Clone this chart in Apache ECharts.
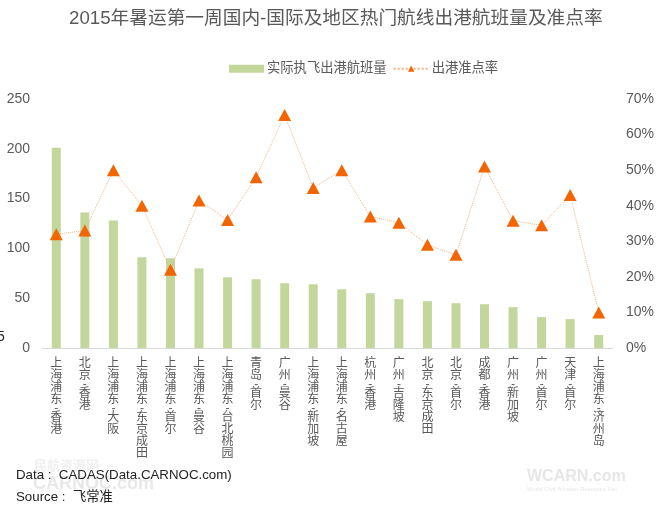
<!DOCTYPE html>
<html><head><meta charset="utf-8">
<style>html,body{margin:0;padding:0;background:#fff}#c{width:661px;height:513px}</style>
<script src="https://cdn.jsdelivr.net/npm/echarts@6/dist/echarts.min.js"></script>
</head><body><div id="c"></div>
<script>
const categories = ['上海浦东·香港','北京·香港','上海浦东·大阪','上海浦东·东京成田','上海浦东·首尔','上海浦东·曼谷','上海浦东·台北桃园','青岛·首尔','广州·曼谷','上海浦东·新加坡','上海浦东·名古屋','杭州·香港','广州·吉隆坡','北京·东京成田','北京·首尔','成都·香港','广州·新加坡','广州·首尔','天津·首尔','上海浦东·济州岛'];
const flights = [201,136,128,91,90,80,71,69,65,64,59,55,49,47,45,44,41,31,29,13];
const onTime = [32,33,50,40,22,41.5,36,48,65.5,45,50,37,35.2,29,26.2,51,35.8,34.5,43,10];
const F = '"Liberation Sans","Noto Sans CJK SC",sans-serif';
const chart = echarts.init(document.getElementById('c'), null, {renderer:'canvas'});
chart.setOption({
  animation:false,
  textStyle:{fontFamily:F},
  title:{text:'2015年暑运第一周国内-国际及地区热门航线出港航班量及准点率',left:64,top:5,
    textStyle:{fontFamily:F,fontSize:18.7,fontWeight:'normal',color:'#595959'}},
  legend:{top:57,left:224,itemGap:6,itemWidth:35,itemHeight:8,
    textStyle:{fontFamily:F,fontSize:13.3,color:'#595959',padding:[0,0,0,-2]},
    data:[{name:'实际执飞出港航班量',icon:'rect'},{name:'出港准点率'}]},
  grid:{left:42,right:48,top:99,bottom:165,containLabel:false},
  xAxis:{type:'category',data:categories,
    axisLine:{lineStyle:{color:'#d9d9d9',width:1}},axisTick:{show:false},
    axisLabel:{interval:0,margin:10,align:'center',verticalAlign:'top',
      color:'#595959',fontSize:12,lineHeight:12,
      formatter:v=>Array.from(v).map(ch=>ch==='·'?'{d|-}':'{c|'+ch+'}').join('\n'),
      rich:{c:{fontSize:12,lineHeight:12,color:'#595959',fontFamily:F},
            d:{fontSize:12,lineHeight:6,color:'#595959',fontFamily:F}}}},
  yAxis:[
    {type:'value',min:0,max:250,interval:50,axisLine:{show:false},axisTick:{show:false},splitLine:{show:false},
     axisLabel:{fontSize:14,color:'#595959',margin:12}},
    {type:'value',min:0,max:70,interval:10,axisLine:{show:false},axisTick:{show:false},splitLine:{show:false},
     axisLabel:{fontSize:14,color:'#595959',margin:13,formatter:'{value}%'}}
  ],
  series:[
    {name:'实际执飞出港航班量',type:'bar',data:flights,barWidth:9,itemStyle:{color:'#c3d69b'}},
    {name:'出港准点率',type:'line',yAxisIndex:1,data:onTime,symbol:'triangle',symbolSize:[13,12],
     lineStyle:{color:'#f4b183',width:1,type:'dotted'},itemStyle:{color:'#f26500'},z:5}
  ],
  graphic:[
    {type:'text',left:-3,top:330,style:{text:'5',font:'14px '+F,fill:'#222'}},
    {type:'text',left:34,top:460,z:-1,style:{text:'民航资源网',font:'bold 13px '+F,fill:'#f0f0f0'}},
    {type:'text',left:33,top:475,z:-1,style:{text:'CARNOC.com',font:'bold 18px '+F,fill:'#e8e8e8'}},
    {type:'text',left:527,top:469,z:-1,style:{text:'WCARN.com',font:'bold 16px '+F,fill:'#e6e6e6'}},
    {type:'text',left:527,top:486,z:-1,style:{text:'World Civil Aviation Resource Net',font:'6px '+F,fill:'#e6e6e6'}},
    {type:'text',left:16,top:469,style:{text:'Data : \u00a0CADAS(Data.CARNOC.com)',font:'13.3px '+F,fill:'#222'}},
    {type:'text',left:16,top:491,style:{text:'Source : \u00a0飞常准',font:'13.3px '+F,fill:'#222'}}
  ]
});
</script></body></html>
